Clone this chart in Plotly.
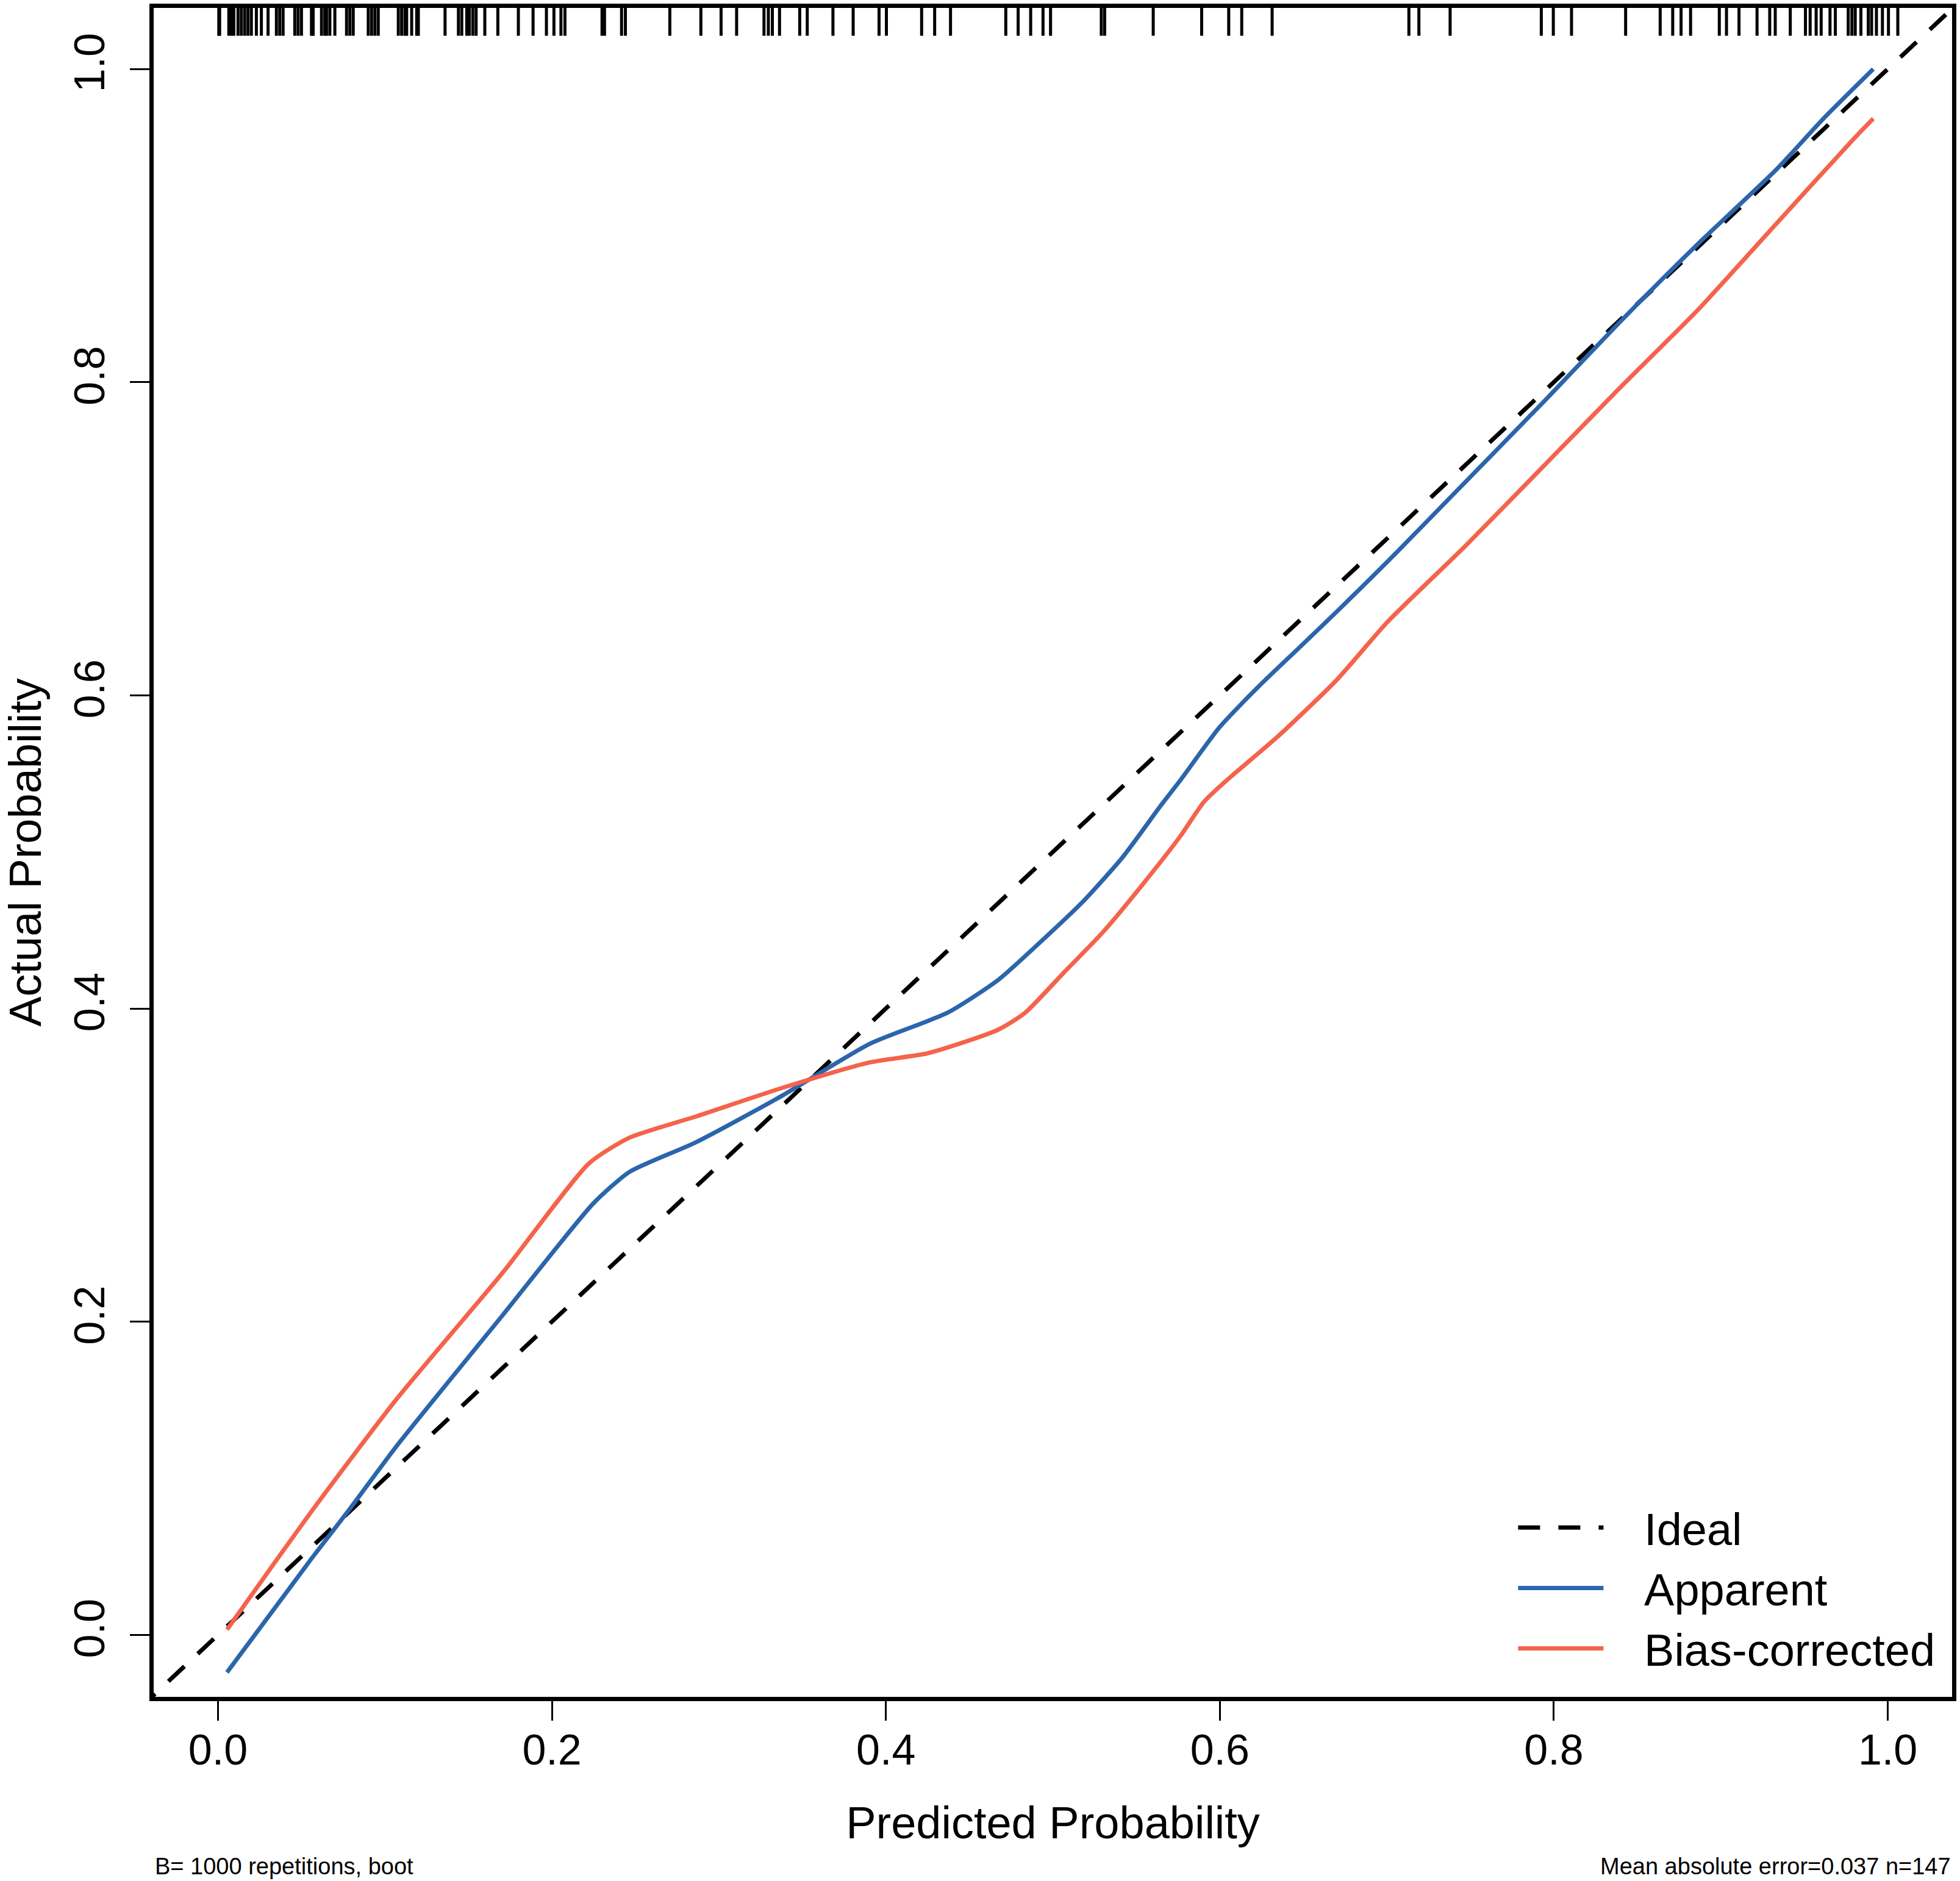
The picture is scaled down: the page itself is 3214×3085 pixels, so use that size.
import plotly.graph_objects as go

# Apparent calibration curve (blue)
apparent_x = [0.0054, 0.0558, 0.079, 0.107, 0.1709, 0.2247, 0.2464, 0.2861, 0.337, 0.3904,
              0.4369, 0.4671, 0.4950, 0.5183, 0.5416, 0.5649, 0.5765, 0.5998, 0.6230, 0.6463,
              0.6696, 0.7005, 0.7470, 0.7935, 0.8401, 0.8866, 0.9331, 0.961, 0.9913]
apparent_y = [-0.024, 0.0484, 0.0805, 0.1206, 0.2047, 0.2754, 0.2956, 0.3145, 0.3438, 0.3775,
              0.3973, 0.4181, 0.4449, 0.4686, 0.4964, 0.530, 0.546, 0.5796, 0.6054, 0.6292,
              0.653, 0.6855, 0.7362, 0.787, 0.839, 0.8886, 0.9356, 0.9678, 1.000]

# Bias-corrected curve (red)
bias_x = [0.0054, 0.0558, 0.107, 0.1709, 0.2221, 0.2464, 0.2861, 0.337, 0.3904, 0.4253,
          0.4671, 0.4834, 0.5067, 0.5300, 0.5532, 0.5765, 0.5905, 0.6044, 0.6347, 0.6696,
          0.7005, 0.747, 0.7935, 0.8401, 0.8866, 0.9331, 0.9797, 0.9913]
bias_y = [0.0033, 0.0785, 0.1506, 0.2318, 0.301, 0.3175, 0.331, 0.349, 0.3656, 0.3715,
          0.3864, 0.3973, 0.4231, 0.4488, 0.4785, 0.5103, 0.532, 0.546, 0.5737, 0.6094,
          0.647, 0.6954, 0.746, 0.797, 0.8465, 0.901, 0.9555, 0.9683]

ideal_x = [-0.1, 1.1]
ideal_y = [-0.1, 1.1]

# predicted probabilities shown as rug on top
rug_x = [0.0005, 0.001, 0.0065, 0.008, 0.0095, 0.012, 0.014, 0.016, 0.018, 0.020, 0.023, 0.026,
         0.030, 0.035, 0.037, 0.039, 0.046, 0.048, 0.050, 0.056, 0.057, 0.062, 0.064, 0.065,
         0.067, 0.070, 0.077, 0.079, 0.081, 0.090, 0.092, 0.094, 0.096, 0.108, 0.110, 0.112,
         0.113, 0.116, 0.119, 0.120, 0.136, 0.144, 0.146,
         0.149, 0.1505, 0.1526, 0.1546, 0.1598, 0.1676, 0.1799, 0.1887, 0.1967, 0.2012, 0.2054,
         0.2078, 0.2300, 0.2315, 0.2417, 0.2440, 0.2706, 0.2892, 0.3013, 0.3106, 0.3270, 0.3296,
         0.3320, 0.3363, 0.3484, 0.3529, 0.3683, 0.3804, 0.3959, 0.4003, 0.4214, 0.4292,
         0.4387, 0.4718, 0.4792, 0.4867, 0.4941, 0.4986, 0.529, 0.531, 0.5601, 0.5891, 0.6053,
         0.6131, 0.6313, 0.7132, 0.7192,
         0.7379, 0.7925, 0.7997, 0.8106, 0.8430, 0.8637, 0.8712, 0.8762, 0.8819, 0.8991, 0.9034,
         0.9109, 0.9217, 0.9293, 0.9326, 0.9416, 0.9507, 0.9535, 0.9571, 0.9601, 0.9654, 0.9686,
         0.9763, 0.9785, 0.9805, 0.9839, 0.9883, 0.9903, 0.9932, 0.9968, 1.0004, 1.006]
rug_level = [1.0305] * len(rug_x)

tick_vals = [0.0, 0.2, 0.4, 0.6, 0.8, 1.0]
tick_text = ["0.0", "0.2", "0.4", "0.6", "0.8", "1.0"]

FONT = "Liberation Sans, Arial, sans-serif"
BLUE = "#2B65AC"
RED = "#F4634B"
PAD = "\u00a0\u00a0\u00a0"  # gap between legend line and label, like base R

fig = go.Figure()

fig.add_trace(go.Scatter(x=rug_x, y=rug_level, mode="markers", showlegend=False, hoverinfo="skip",
                         marker=dict(symbol="line-ns", size=34, line=dict(width=5, color="black"))))

fig.add_trace(go.Scatter(x=ideal_x, y=ideal_y, mode="lines", name=PAD + "Ideal",
                         line=dict(color="black", width=7, dash="36px,30px")))
fig.add_trace(go.Scatter(x=apparent_x, y=apparent_y, mode="lines", name=PAD + "Apparent",
                         line=dict(color=BLUE, width=7, shape="spline", smoothing=0.6)))
fig.add_trace(go.Scatter(x=bias_x, y=bias_y, mode="lines", name=PAD + "Bias-corrected",
                         line=dict(color=RED, width=7, shape="spline", smoothing=0.6)))

axis_common = dict(showgrid=False, zeroline=False, showline=True, mirror=True, linecolor="black",
                   linewidth=7, ticks="outside", ticklen=32, tickwidth=3, tickcolor="black",
                   tickvals=tick_vals, ticktext=tick_text,
                   tickfont=dict(family=FONT, size=70, color="black"))

fig.update_xaxes(range=[-0.0385, 1.0385], ticklabelstandoff=-12,
                 title=dict(text="Predicted Probability", font=dict(family=FONT, size=74, color="black"),
                            standoff=58),
                 **axis_common)
fig.update_yaxes(range=[-0.0396, 1.039], tickangle=-90, ticklabelstandoff=14,
                 title=dict(text="Actual Probability", font=dict(family=FONT, size=74, color="black"),
                            standoff=26),
                 **axis_common)

fig.add_annotation(text="B= 1000 repetitions, boot", xref="paper", yref="paper", x=0, y=0,
                   xanchor="left", yanchor="top", yshift=-255, showarrow=False,
                   font=dict(family=FONT, size=38, color="black"))
fig.add_annotation(text="Mean absolute error=0.037 n=147", xref="paper", yref="paper", x=1, y=0,
                   xanchor="right", yanchor="top", yshift=-255, showarrow=False,
                   font=dict(family=FONT, size=38, color="black"))

fig.update_layout(
    width=3214, height=3085,
    margin=dict(l=252, r=10, t=6, b=302),
    plot_bgcolor="white", paper_bgcolor="white",
    legend=dict(x=0.757, y=0.12, xanchor="left", yanchor="top", bgcolor="rgba(0,0,0,0)",
                font=dict(family=FONT, size=74, color="black"), itemwidth=140,
                tracegroupgap=0),
)

fig.write_html("out.html", config={"displayModeBar": False},
               post_script="document.body.style.margin='0px';")
